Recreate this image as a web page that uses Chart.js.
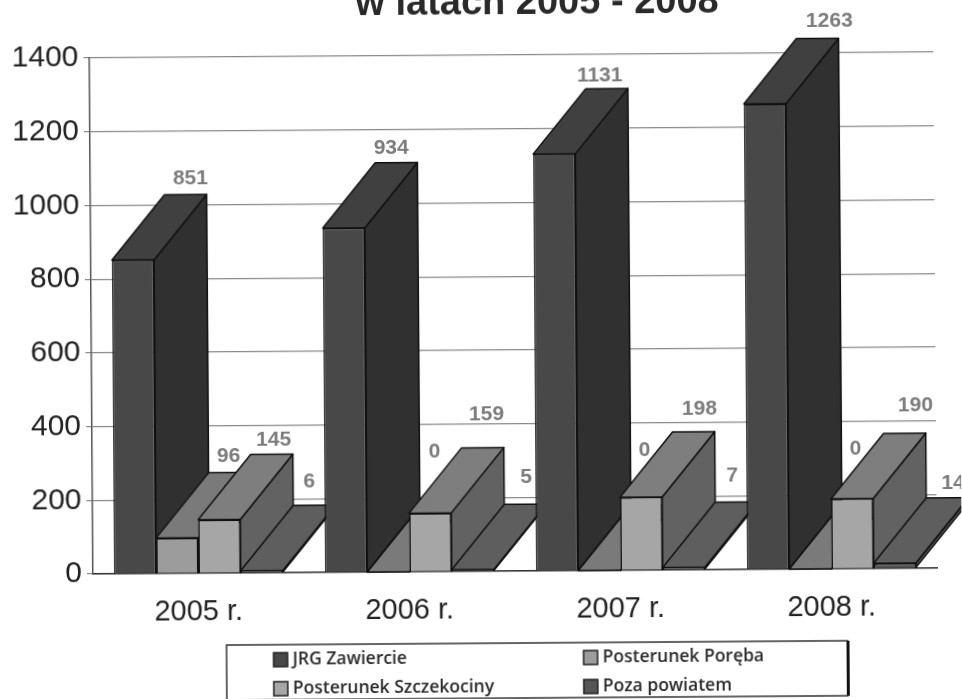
<!DOCTYPE html>
<html><head><meta charset="utf-8">
<style>
html,body{margin:0;padding:0;background:#fff;overflow:hidden;width:962px;height:699px}
#c{position:absolute;left:0;top:-40px;transform-origin:93px 614px;transform:rotate(-0.4deg)}
</style>
<script src="https://cdn.jsdelivr.net/npm/chart.js@4"></script>
</head><body>
<canvas id="c" width="962" height="780"></canvas>
<script>
const categories=["2005 r.","2006 r.","2007 r.","2008 r."];
const jrgZawiercie=[851,934,1131,1263];
const posterunekPoreba=[96,0,0,0];
const posterunekSzczekociny=[145,159,198,190];
const pozaPowiatem=[6,5,7,14];
const yTicks=[0,200,400,600,800,1000,1200,1400];
const titleText="w latach 2005 - 2008";
const DX=53,DY=65;
const faces=[
 {front:"#484848",side:"#303030",top:"#404040"},
 {front:"#9c9c9c",side:"#6a6a6a",top:"#7a7a7a"},
 {front:"#a6a6a6",side:"#626262",top:"#7e7e7e"},
 {front:"#555555",side:"#4c4c4c",top:"#5e5e5e"}
];
// hand-placed label offsets of the original, per series and year (style only)
const labelLift=[[16,15,13,17],[16,55,55,55],[14,33,23,28],[24,27,26,15]];
const labelShift=[[5,-5,-7,12],[-1,-6,-7,-7],[2,4,6,11],[-5,1,-4,6]];
function poly(ctx,pts,fill){
 ctx.beginPath();pts.forEach((p,i)=>i?ctx.lineTo(p[0],p[1]):ctx.moveTo(p[0],p[1]));ctx.closePath();
 ctx.fillStyle=fill;ctx.fill();ctx.strokeStyle="#111";ctx.lineWidth=1.5;ctx.lineJoin="round";ctx.stroke();
}
const depth={id:"depth",beforeDatasetsDraw(chart){
 const ctx=chart.ctx;ctx.save();
 for(let g=0;g<categories.length;g++){
  chart.data.datasets.forEach((ds,i)=>{
   const b=chart.getDatasetMeta(i).data[g];
   const l=b.x-b.width/2,r=b.x+b.width/2,t=b.y,base=b.base,f=faces[i];
   poly(ctx,[[r,t],[r+DX,t-DY],[r+DX,base-DY],[r,base]],f.side);
   poly(ctx,[[l,t],[l+DX,t-DY],[r+DX,t-DY],[r,t]],f.top);
  });
 }
 ctx.restore();
}};
const annotate={id:"annotate",afterDatasetsDraw(chart){
 const ctx=chart.ctx;ctx.save();
 ctx.textAlign="center";ctx.textBaseline="middle";
 ctx.fillStyle="#7c7c7c";ctx.font="bold 21px 'Liberation Sans'";
 chart.data.datasets.forEach((ds,i)=>{
  chart.getDatasetMeta(i).data.forEach((b,g)=>{
   ctx.fillText(String(ds.data[g]),b.x+DX+labelShift[i][g],b.y-DY-labelLift[i][g]);
  });
 });
 ctx.textBaseline="alphabetic";
 ctx.fillStyle="#2a2a2a";ctx.font="bold 38px 'Liberation Sans'";
 ctx.fillText(titleText,541,57);
 ctx.textBaseline="middle";
 // legend
 const bx=226,by=686,bw=621,bh=55;
 ctx.fillStyle="#fff";ctx.strokeStyle="#333";ctx.lineWidth=1.5;
 ctx.fillRect(bx,by,bw,bh);ctx.strokeRect(bx,by,bw,bh);
 ctx.fillStyle="#111";ctx.fillRect(bx+bw-1,by,3,bh);
 const cols=[273,583],rows=[701,730];
 const order=[[0,0,0],[1,1,0],[2,0,1],[3,1,1]];
 ctx.textAlign="left";ctx.font="600 17.5px 'Open Sans'";
 order.forEach(([d,c,r])=>{
  const x=cols[c],y=rows[r];
  ctx.fillStyle=faces[d].front;ctx.strokeStyle="#222";ctx.lineWidth=1.5;
  ctx.fillRect(x,y-7,14,14);ctx.strokeRect(x,y-7,14,14);
  ctx.fillStyle="#2a2a2a";
  ctx.fillText(chart.data.datasets[d].label,x+19,y);
 });
 ctx.restore();
}};
new Chart(document.getElementById("c"),{
 type:"bar",
 data:{labels:categories,datasets:[
  {label:"JRG Zawiercie",data:jrgZawiercie,backgroundColor:faces[0].front},
  {label:"Posterunek Poręba",data:posterunekPoreba,backgroundColor:faces[1].front},
  {label:"Posterunek Szczekociny",data:posterunekSzczekociny,backgroundColor:faces[2].front},
  {label:"Poza powiatem",data:pozaPowiatem,backgroundColor:faces[3].front}
 ].map(d=>Object.assign(d,{borderColor:"#111",borderWidth:1.5,categoryPercentage:0.8,barPercentage:1}))},
 options:{
  responsive:false,animation:false,
  layout:{padding:{top:98,right:25,bottom:106,left:0}},
  plugins:{legend:{display:false},title:{display:false},tooltip:{enabled:false}},
  scales:{
   x:{grid:{display:false},border:{color:"#333",width:1.5},
      ticks:{color:"#222",padding:14,font:{family:"Liberation Sans",size:29},maxRotation:0},
      afterFit(s){s.height=60;}},
   y:{min:0,max:1400,afterBuildTicks(s){s.ticks=yTicks.map(v=>({value:v}));},
      grid:{color:"#8a8a8a",lineWidth:1.2,tickLength:6},border:{color:"#555",width:1.5},
      ticks:{color:"#222",padding:5,font:{family:"Liberation Sans",size:30},callback:v=>String(v)},
      afterFit(s){s.width=93;}}
  }
 },
 plugins:[depth,annotate]
});
</script>
</body></html>
